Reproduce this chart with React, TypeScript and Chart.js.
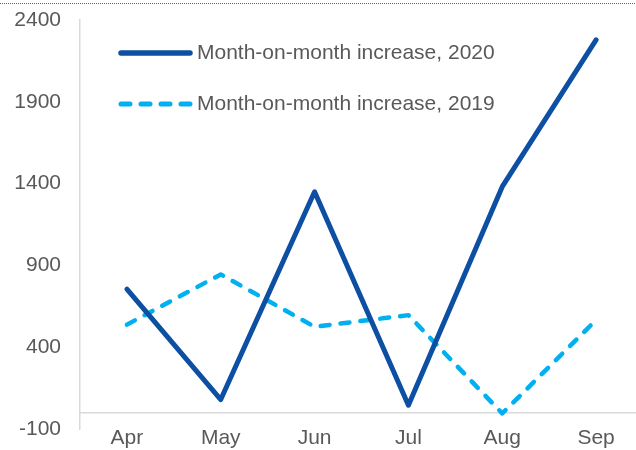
import React, { useEffect, useRef } from "react";
import { Chart, registerables } from "chart.js";

Chart.register(...registerables);

const months = ["Apr", "May", "Jun", "Jul", "Aug", "Sep"];
const increase2020 = [755, 80, 1350, 45, 1381, 2278];
const increase2019 = [538, 845, 525, 596, -5, 566];
const yTicks = [-100, 400, 900, 1400, 1900, 2400];
const label2020 = "Month-on-month increase, 2020";
const label2019 = "Month-on-month increase, 2019";

const FONT = "'Liberation Sans', Arial, sans-serif";
const GREY = "#595959";

const decorPlugin = {
  id: "decor",
  beforeDatasetsDraw(chart: any) {
    const { ctx, chartArea, scales } = chart;
    const y0 = scales.y.getPixelForValue(0);
    ctx.save();
    ctx.strokeStyle = "#D9D9D9";
    ctx.lineWidth = 1.5;
    ctx.beginPath();
    ctx.moveTo(chartArea.left, y0);
    ctx.lineTo(chartArea.right, y0);
    ctx.stroke();
    // dotted border at top
    ctx.strokeStyle = "#2F6EBA";
    ctx.lineWidth = 1;
    ctx.setLineDash([1, 1]);
    ctx.beginPath();
    ctx.moveTo(0, 3.5);
    ctx.lineTo(chart.width, 3.5);
    ctx.stroke();
    ctx.setLineDash([]);
    // category labels
    ctx.fillStyle = GREY;
    ctx.font = `21px ${FONT}`;
    ctx.textAlign = "center";
    ctx.textBaseline = "middle";
    const labels = chart.data.labels as string[];
    labels.forEach((lab, i) => {
      ctx.fillText(lab, scales.x.getPixelForValue(i), 438);
    });
    // y tick labels
    ctx.textAlign = "right";
    yTicks.forEach((v) => {
      ctx.fillText(String(v), 61, scales.y.getPixelForValue(v));
    });
    ctx.restore();
  },
  afterDraw(chart: any) {
    const { ctx } = chart;
    const rows = [53, 104];
    chart.data.datasets.forEach((ds: any, i: number) => {
      const y = rows[i];
      ctx.save();
      ctx.strokeStyle = ds.borderColor;
      ctx.lineWidth = ds.borderWidth + 0.5;
      ctx.lineCap = "round";
      ctx.setLineDash(ds.borderDash || []);
      ctx.beginPath();
      ctx.moveTo(121, y);
      ctx.lineTo(190, y);
      ctx.stroke();
      ctx.setLineDash([]);
      ctx.fillStyle = GREY;
      ctx.font = `21px ${FONT}`;
      ctx.textBaseline = "middle";
      ctx.textAlign = "left";
      ctx.fillText(ds.label, 197, y);
      ctx.restore();
    });
  },
};

export default function App() {
  const ref = useRef<HTMLCanvasElement>(null);
  useEffect(() => {
    const prevMargin = document.body.style.margin;
    document.body.style.margin = "0";
    const chart = new Chart(ref.current!, {
      type: "line",
      data: {
        labels: months,
        datasets: [
          {
            label: label2020,
            data: increase2020,
            borderColor: "#0D4FA3",
            borderWidth: 5,
            pointRadius: 0,
            borderCapStyle: "round",
            borderJoinStyle: "round",
            tension: 0,
          },
          {
            label: label2019,
            data: increase2019,
            borderColor: "#00B0F0",
            borderWidth: 4.5,
            borderDash: [9, 11],
            borderCapStyle: "round",
            borderJoinStyle: "round",
            pointRadius: 0,
            tension: 0,
          },
        ],
      },
      options: {
        animation: false,
        responsive: false,
        layout: { padding: { left: 0, top: 20, right: 0, bottom: 21 } },
        plugins: { legend: { display: false }, tooltip: { enabled: false } },
        scales: {
          x: {
            display: false,
            offset: true,
          },
          y: {
            min: -100,
            max: 2400,
            grid: { display: false, drawTicks: false },
            border: { display: true, color: "#D9D9D9", width: 1.5 },
            ticks: { display: false },
            afterFit: (s: any) => { s.width = 80; },
          },
        },
      },
      plugins: [decorPlugin],
    });
    return () => {
      chart.destroy();
      document.body.style.margin = prevMargin;
    };
  }, []);
  return (
    <div style={{ position: "fixed", left: 0, top: 0, width: 636, height: 450, overflow: "hidden", background: "#fff" }}>
      <canvas ref={ref} width={643} height={450} style={{ width: 643, height: 450, display: "block" }} />
    </div>
  );
}
